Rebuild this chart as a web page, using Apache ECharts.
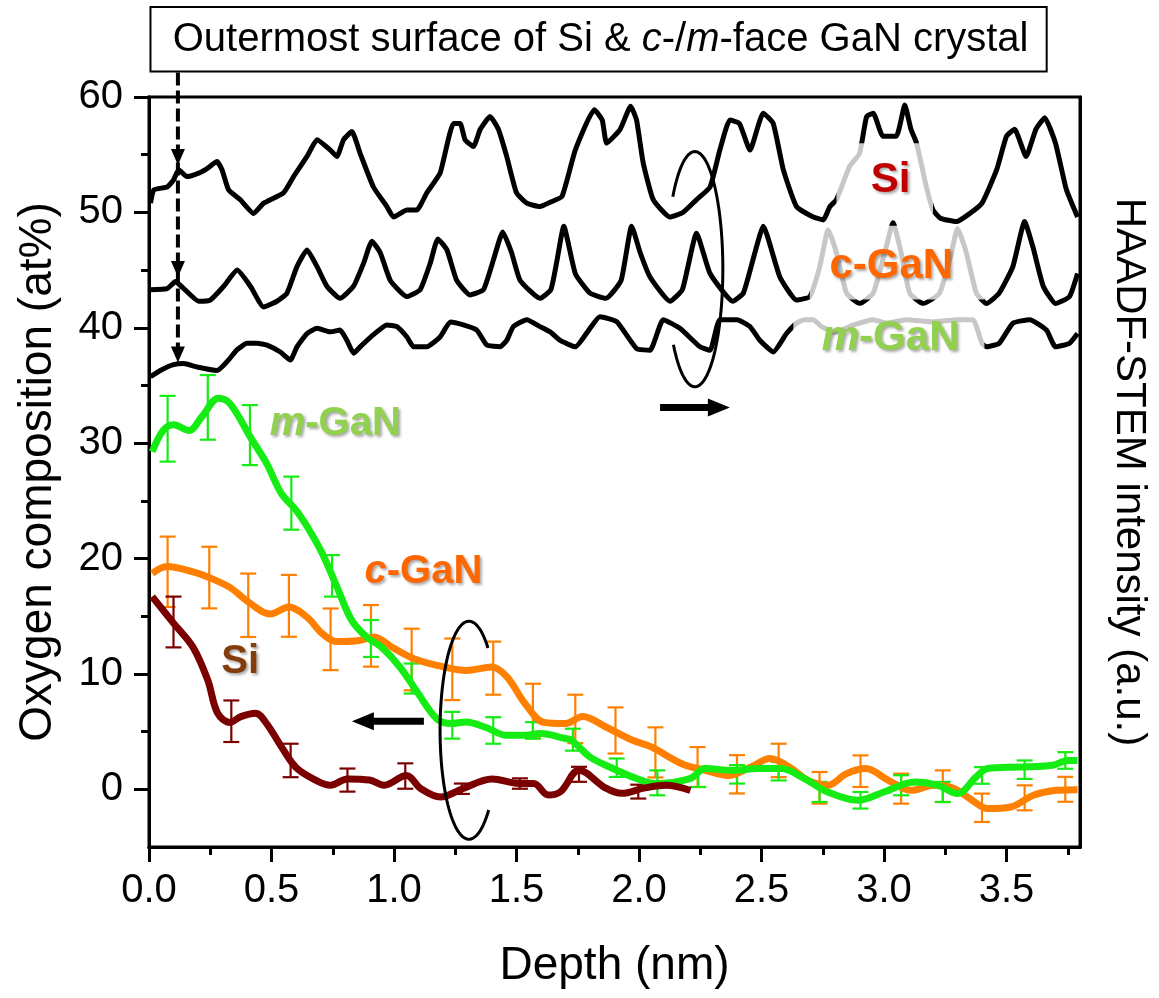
<!DOCTYPE html>
<html>
<head>
<meta charset="utf-8">
<script src="https://cdn.jsdelivr.net/npm/echarts@6/dist/echarts.min.js"></script>
<style>
  html, body { margin: 0; padding: 0; background: #fff; }
  #chart { width: 1159px; height: 998px; }
</style>
</head>
<body>
<div id="chart"></div>
<script>
var FONT = '"Liberation Sans", Arial, Helvetica, sans-serif';

// ---- tick values ----
var xTicks = [0, 0.5, 1.0, 1.5, 2.0, 2.5, 3.0, 3.5];
var xMinorTicks = [0.25, 0.75, 1.25, 1.75, 2.25, 2.75, 3.25, 3.75];
var yTicks = [0, 10, 20, 30, 40, 50, 60];
var yMinorTicks = [5, 15, 25, 35, 45, 55];

// ---- HAADF-STEM intensity profiles (arbitrary units, right axis) ----
var haadfSi = [[0.006,50.8],[0.02,51.95],[0.074,52.2],[0.10,52.8],[0.121,53.7],[0.155,53.1],[0.203,53.4],[0.237,53.8],[0.278,54.4],[0.298,53.7],[0.325,51.95],[0.373,51.1],[0.427,49.9],[0.468,50.8],[0.549,51.7],[0.59,53.1],[0.645,54.85],[0.686,56.3],[0.74,55.4],[0.767,54.85],[0.794,56.3],[0.828,57.0],[0.862,55.1],[0.916,52.2],[0.971,50.5],[0.998,49.6],[1.053,50.2],[1.093,50.2],[1.134,51.7],[1.188,53.4],[1.243,57.7],[1.27,57.7],[1.29,56.3],[1.324,55.7],[1.352,57.2],[1.392,58.3],[1.426,57.2],[1.46,54.85],[1.50,51.7],[1.542,50.8],[1.596,50.5],[1.64,50.9],[1.686,51.4],[1.74,55.4],[1.818,58.9],[1.85,58.0],[1.868,56.0],[1.923,57.2],[1.966,59.2],[1.99,58.0],[2.017,54.3],[2.058,51.1],[2.126,49.6],[2.18,50.0],[2.235,51.1],[2.29,52.2],[2.33,55.4],[2.371,58.0],[2.41,57.7],[2.453,55.4],[2.507,58.6],[2.548,57.7],[2.589,53.7],[2.643,50.5],[2.711,49.6],[2.752,49.35],[2.779,50.5],[2.806,51.1],[2.86,54.0],[2.90,55.1],[2.929,58.3],[2.956,58.6],[2.996,56.6],[3.05,56.6],[3.085,59.3],[3.11,57.2],[3.133,56.0],[3.173,52.2],[3.20,50.2],[3.23,49.5],[3.296,49.2],[3.35,49.9],[3.40,50.8],[3.46,53.7],[3.50,56.6],[3.533,57.2],[3.58,54.85],[3.62,57.2],[3.656,58.2],[3.70,56.0],[3.744,52.0],[3.79,49.6]];
var haadfC = [[0.006,43.3],[0.074,43.4],[0.108,44.0],[0.142,43.4],[0.203,42.3],[0.25,42.4],[0.305,43.6],[0.36,45.0],[0.414,43.6],[0.468,41.8],[0.522,42.3],[0.563,43.0],[0.604,45.3],[0.645,46.75],[0.686,45.3],[0.726,43.6],[0.78,42.55],[0.835,43.6],[0.876,45.6],[0.91,47.5],[0.944,46.5],[0.985,44.1],[1.053,42.7],[1.107,43.3],[1.148,45.6],[1.179,47.7],[1.216,46.75],[1.256,44.1],[1.31,42.85],[1.365,43.3],[1.406,45.9],[1.444,48.3],[1.48,46.5],[1.515,44.1],[1.596,42.55],[1.64,43.3],[1.665,45.8],[1.693,48.8],[1.74,44.7],[1.80,43.0],[1.865,42.55],[1.927,44.1],[1.97,48.8],[2.005,46.5],[2.045,44.4],[2.126,42.3],[2.177,43.3],[2.235,48.2],[2.29,44.7],[2.383,42.3],[2.426,43.0],[2.473,46.5],[2.507,48.8],[2.575,44.4],[2.643,42.4],[2.697,42.7],[2.738,45.3],[2.772,48.5],[2.806,46.5],[2.847,43.0],[2.90,42.1],[2.956,43.0],[3.003,46.5],[3.037,49.1],[3.07,46.5],[3.105,43.0],[3.16,42.1],[3.227,43.0],[3.275,46.5],[3.30,48.6],[3.336,46.5],[3.377,43.0],[3.418,42.1],[3.47,43.0],[3.526,45.3],[3.574,49.2],[3.608,47.0],[3.65,43.6],[3.70,42.1],[3.757,42.7],[3.79,44.7]];
var haadfM = [[0.006,35.76],[0.046,36.3],[0.10,36.8],[0.142,36.9],[0.196,36.6],[0.278,36.3],[0.318,37.05],[0.36,38.1],[0.40,38.65],[0.441,38.65],[0.482,38.5],[0.536,37.9],[0.577,37.2],[0.604,38.35],[0.645,39.5],[0.686,39.95],[0.74,39.65],[0.78,39.8],[0.808,38.9],[0.835,37.8],[0.862,38.35],[0.916,39.4],[0.971,40.25],[1.012,40.1],[1.053,39.2],[1.08,38.35],[1.134,38.35],[1.188,39.2],[1.23,40.5],[1.283,40.25],[1.338,39.8],[1.379,38.5],[1.433,38.35],[1.46,38.9],[1.487,40.1],[1.542,40.7],[1.596,40.1],[1.64,39.6],[1.678,38.9],[1.74,38.35],[1.80,39.95],[1.84,40.96],[1.909,40.53],[1.99,38.2],[2.045,38.05],[2.099,40.7],[2.167,39.95],[2.249,38.35],[2.29,38.05],[2.33,40.7],[2.40,40.7],[2.453,40.1],[2.494,38.9],[2.548,37.9],[2.602,39.5],[2.643,40.4],[2.675,40.7],[2.711,40.7],[2.745,40.1],[2.80,39.6],[2.87,40.2],[2.956,40.7],[3.01,40.4],[3.09,40.7],[3.20,40.5],[3.30,40.7],[3.363,40.7],[3.40,38.65],[3.418,38.35],[3.47,38.65],[3.526,40.4],[3.595,40.7],[3.663,39.8],[3.70,38.35],[3.757,38.65],[3.79,39.5]];

// ---- oxygen composition (at%) profiles, left axis ----
var oxySi = [[0.013,16.7],[0.10,14.4],[0.18,12.3],[0.24,9.45],[0.28,6.6],[0.33,5.8],[0.375,6.3],[0.435,6.6],[0.48,5.7],[0.54,3.7],[0.60,1.9],[0.68,0.8],[0.74,0.35],[0.81,0.9],[0.90,0.8],[0.96,0.35],[1.05,1.2],[1.11,0.05],[1.19,-0.67],[1.28,0.05],[1.40,0.9],[1.51,0.5],[1.57,0.5],[1.63,-0.5],[1.68,-0.2],[1.755,1.65],[1.865,0.1],[1.93,-0.35],[2.02,0.1],[2.11,0.35],[2.21,-0.1]];
var oxyC = [[0.013,18.7],[0.073,19.3],[0.18,18.85],[0.24,18.4],[0.33,17.5],[0.405,16.25],[0.495,15.2],[0.571,15.8],[0.646,14.9],[0.707,13.5],[0.767,12.8],[0.858,12.9],[0.918,13.2],[0.993,12.3],[1.084,11.3],[1.205,10.6],[1.295,10.3],[1.40,10.6],[1.461,9.74],[1.536,7.4],[1.612,5.8],[1.70,5.7],[1.77,6.3],[1.865,5.4],[1.974,4.25],[2.05,3.67],[2.177,2.2],[2.27,1.65],[2.363,1.2],[2.457,1.93],[2.535,2.66],[2.613,1.93],[2.69,0.78],[2.77,0.35],[2.847,1.36],[2.925,1.8],[3.018,0.78],[3.11,-0.09],[3.205,0.35],[3.283,0.1],[3.36,-0.95],[3.423,-1.67],[3.517,-1.53],[3.61,-0.52],[3.704,-0.09],[3.79,-0.03]];
var oxyM = [[0.013,29.25],[0.058,31.1],[0.10,31.6],[0.164,31.1],[0.216,32.3],[0.284,33.9],[0.33,33.45],[0.42,30.3],[0.48,28.25],[0.54,25.65],[0.60,24.2],[0.646,22.75],[0.707,20.45],[0.767,17.55],[0.827,14.66],[0.888,13.2],[0.948,12.34],[1.024,10.6],[1.099,8.3],[1.174,6.13],[1.234,5.7],[1.295,5.84],[1.37,5.4],[1.461,4.68],[1.536,4.68],[1.597,4.83],[1.70,4.4],[1.725,4.25],[1.80,2.8],[1.88,1.93],[1.99,0.93],[2.067,0.49],[2.208,0.93],[2.27,1.8],[2.38,1.65],[2.488,1.8],[2.58,1.8],[2.675,0.93],[2.77,-0.23],[2.893,-0.95],[3.0,-0.23],[3.127,0.63],[3.22,0.35],[3.30,-0.37],[3.376,1.07],[3.423,1.8],[3.548,1.93],[3.688,2.08],[3.75,2.5],[3.79,2.5]];

// ---- error bars: position, centre, half-width ----
var siErrX = [0.10, 0.336, 0.578, 0.81, 1.046, 1.277, 1.514, 1.755, 1.997];
var siErrMid = [14.5, 5.9, 2.5, 0.8, 1.15, 0.05, 0.5, 1.3, -0.2];
var siErr = [2.2, 1.8, 1.45, 1.0, 1.1, 0.45, 0.45, 0.65, 0.6];

var cErrX = [0.076,0.246,0.405,0.571,0.741,0.906,1.072,1.238,1.405,1.567,1.74,1.904,2.067,2.239,2.40,2.57,2.737,2.904,3.07,3.24,3.40,3.574,3.74];
var cErrMid = [18.85,18.35,15.95,15.9,13.0,13.3,11.25,10.4,10.5,6.85,6.1,5.1,3.2,1.93,1.3,2.5,0.13,1.57,0.06,0.27,-1.6,-0.74,0.0];
var cErr = [3.05,2.67,2.75,2.68,2.67,2.67,2.67,2.67,2.3,2.3,2.1,2.0,2.17,1.73,1.66,1.45,1.37,1.37,1.3,1.37,1.23,1.08,1.08];

var mErrX = [0.076,0.24,0.412,0.581,0.747,0.906,1.072,1.238,1.405,1.567,1.73,1.909,2.075,2.242,2.40,2.57,2.737,2.904,3.07,3.24,3.40,3.574,3.74];
var mErrMid = [31.25,33.1,30.7,24.8,18.5,13.07,9.6,5.55,5.1,5.1,4.3,1.87,0.56,1.07,1.3,1.57,-0.23,-0.95,0.35,-0.23,1.2,1.7,2.5];
var mErr = [2.85,2.8,2.6,2.3,1.8,1.6,1.3,1.16,1.15,0.72,0.95,0.8,1.08,0.87,0.8,0.8,0.87,0.72,0.87,0.87,0.72,0.8,0.72];

var COL_SI = '#7b0000', COL_C = '#ff8000', COL_M = '#14ec14';

function errData(xs, mid, err) {
  return xs.map(function (x, i) { return [x, mid[i] - err[i], mid[i] + err[i]]; });
}
function errRender(color) {
  return function (params, api) {
    var x = api.value(0);
    var top = api.coord([x, api.value(2)]);
    var bot = api.coord([x, api.value(1)]);
    var w = 8, st = { stroke: color, lineWidth: 2.2 };
    return { type: 'group', children: [
      { type: 'line', shape: { x1: top[0], y1: top[1], x2: bot[0], y2: bot[1] }, style: st },
      { type: 'line', shape: { x1: top[0] - w, y1: top[1], x2: top[0] + w, y2: top[1] }, style: st },
      { type: 'line', shape: { x1: bot[0] - w, y1: bot[1], x2: bot[0] + w, y2: bot[1] }, style: st }
    ]};
  };
}
function haadfLine(data) {
  return { type: 'line', xAxisIndex: 0, yAxisIndex: 1, data: data, showSymbol: false, silent: true,
    smooth: 0.15, lineStyle: { color: '#000', width: 5 }, z: 2 };
}
function oxyLine(data, color) {
  return { type: 'line', xAxisIndex: 0, yAxisIndex: 0, data: data, showSymbol: false, smooth: 0.35,
    lineStyle: { color: color, width: 7 }, z: 3 };
}
function errSeries(data, color) {
  return { type: 'custom', xAxisIndex: 0, yAxisIndex: 0, data: data, renderItem: errRender(color),
    encode: { x: 0, y: [1, 2] }, z: 3 };
}

var chart = echarts.init(document.getElementById('chart'));
var axisLine = { show: true, onZero: false, lineStyle: { color: '#000', width: 3 } };

chart.setOption({
  animation: false,
  backgroundColor: '#fff',
  grid: { left: 149, top: 97, right: 79, bottom: 151, show: true, borderColor: '#000', borderWidth: 3,
    containLabel: false, outerBoundsMode: 'none' },
  xAxis: [
    { type: 'value', min: 0, max: 3.8, position: 'bottom', axisLine: axisLine,
      axisTick: { show: true, inside: false, length: 15, lineStyle: { color: '#000', width: 3 }, customValues: xTicks },
      axisLabel: { customValues: xTicks, formatter: function (v) { return v.toFixed(1); },
        fontSize: 40, color: '#000', fontFamily: FONT, margin: 24 },
      splitLine: { show: false },
      name: 'Depth (nm)', nameLocation: 'middle', nameGap: 96,
      nameTextStyle: { fontSize: 46, color: '#000', fontFamily: FONT } },
    { type: 'value', min: 0, max: 3.8, position: 'bottom', axisLine: axisLine,
      axisTick: { show: true, length: 8, lineStyle: { color: '#000', width: 3 }, customValues: xMinorTicks },
      axisLabel: { show: false }, splitLine: { show: false } }
  ],
  yAxis: [
    { type: 'value', min: -5, max: 60, position: 'left', axisLine: axisLine,
      axisTick: { show: true, length: 15, lineStyle: { color: '#000', width: 3 }, customValues: yTicks },
      axisLabel: { customValues: yTicks, fontSize: 40, color: '#000', fontFamily: FONT, margin: 26 },
      splitLine: { show: false },
      name: 'Oxygen composition (at%)', nameLocation: 'middle', nameRotate: 90, nameGap: 88,
      nameTextStyle: { fontSize: 46, color: '#000', fontFamily: FONT } },
    { type: 'value', min: -5, max: 60, position: 'right', axisLine: axisLine,
      axisTick: { show: false }, axisLabel: { show: false }, splitLine: { show: false },
      name: 'HAADF-STEM intensity (a.u.)', nameLocation: 'middle', nameRotate: -90, nameGap: 28,
      nameTextStyle: { fontSize: 42, color: '#000', fontFamily: FONT } },
    { type: 'value', min: -5, max: 60, position: 'left', axisLine: axisLine,
      axisTick: { show: true, length: 8, lineStyle: { color: '#000', width: 3 }, customValues: yMinorTicks },
      axisLabel: { show: false }, splitLine: { show: false } }
  ],
  series: [
    haadfLine(haadfSi), haadfLine(haadfC), haadfLine(haadfM),
    oxyLine(oxyC, COL_C), errSeries(errData(cErrX, cErrMid, cErr), COL_C),
    oxyLine(oxyM, COL_M), errSeries(errData(mErrX, mErrMid, mErr), COL_M),
    oxyLine(oxySi, COL_SI), errSeries(errData(siErrX, siErrMid, siErr), COL_SI)
  ]
});

// ---- annotations (data coordinates) ----
var titleBox = { x0: 0.006, x1: 3.664, yTop: 67.8, yBot: 62.2 };
var dashX = 0.118, dashTips = [54.1, 44.4, 37.0];
var fadeBoxes = [ // label backdrops that grey the HAADF traces
  { x0: 2.806, x1: 3.20, yTop: 56.0, yBot: 49.9 },
  { x0: 2.697, x1: 3.41, yTop: 48.85, yBot: 42.45 },
  { x0: 2.63, x1: 3.41, yTop: 41.9, yBot: 36.8 }
];
var ovals = [
  { cx: 2.228, cy: 45.08, rx: 0.1142, ry: 10.19, a0: -142, a1: 142 },
  { cx: 1.306, cy: 5.12, rx: 0.118, ry: 9.45, a0: 47, a1: 313 }
];
var arrows = [
  { x0: 2.086, x1: 2.371, y: 33.1 },
  { x0: 1.122, x1: 0.828, y: 5.9 }
];
var labels = [
  { it: 'm', rest: '-GaN', x: 0.76, y: 31.7, color: '#92d050', size: 40 },
  { it: 'c', rest: '-GaN', x: 1.12, y: 18.8, color: '#ff6600', size: 40 },
  { it: '', rest: 'Si', x: 0.372, y: 11.04, color: '#843c0c', size: 40 },
  { it: '', rest: 'Si', x: 3.027, y: 52.8, color: '#c00000', size: 42 },
  { it: '', rest: 'c-GaN', x: 3.03, y: 45.3, color: '#ff6600', size: 42 },
  { it: 'm', rest: '-GaN', x: 3.027, y: 39.1, color: '#92d050', size: 42 }
];

function P(x, y) { return chart.convertToPixel({ xAxisIndex: 0, yAxisIndex: 0 }, [x, y]); }

var g = [];
fadeBoxes.forEach(function (b) {
  var a = P(b.x0, b.yTop), c = P(b.x1, b.yBot);
  g.push({ type: 'rect', z: 10, shape: { x: a[0], y: a[1], width: c[0] - a[0], height: c[1] - a[1] },
    style: { fill: 'rgba(255,255,255,0.78)' } });
});

(function () {
  var a = P(titleBox.x0, titleBox.yTop), c = P(titleBox.x1, titleBox.yBot);
  g.push({ type: 'rect', z: 20, shape: { x: a[0], y: a[1], width: c[0] - a[0], height: c[1] - a[1] },
    style: { fill: '#fff', stroke: '#000', lineWidth: 2 } });
  var base = { fontSize: 40, fontFamily: FONT, fill: '#000' };
  var ital = { fontSize: 40, fontFamily: FONT, fill: '#000', fontStyle: 'italic' };
  g.push({ type: 'text', z: 21, x: (a[0] + c[0]) / 2 + 2, y: (a[1] + c[1]) / 2 + 1,
    style: { text: '{n|Outermost surface of Si & }{i|c}{n|-/}{i|m}{n|-face GaN crystal}',
      rich: { n: base, i: ital }, align: 'center', verticalAlign: 'middle' } });
  var top = P(dashX, titleBox.yBot), bot = P(dashX, dashTips[dashTips.length - 1]);
  g.push({ type: 'line', z: 20, shape: { x1: top[0], y1: top[1] + 1, x2: bot[0], y2: bot[1] - 8 },
    style: { stroke: '#000', lineWidth: 4, lineDash: [13, 5] } });
  dashTips.forEach(function (t) {
    var p = P(dashX, t);
    g.push({ type: 'polygon', z: 21, shape: { points: [[p[0] - 7, p[1] - 16], [p[0] + 7, p[1] - 16], [p[0], p[1]]] },
      style: { fill: '#000' } });
  });
})();

ovals.forEach(function (o) {
  var c = P(o.cx, o.cy), e = P(o.cx + o.rx, o.cy + o.ry);
  var rx = e[0] - c[0], ry = c[1] - e[1], pts = [];
  for (var a = o.a0; a <= o.a1; a += 3) {
    var r = a * Math.PI / 180;
    pts.push([c[0] + rx * Math.cos(r), c[1] + ry * Math.sin(r)]);
  }
  g.push({ type: 'polyline', z: 20, shape: { points: pts }, style: { stroke: '#000', lineWidth: 3, fill: null } });
});

arrows.forEach(function (ar) {
  var s = P(ar.x0, ar.y), t = P(ar.x1, ar.y), d = t[0] > s[0] ? 1 : -1;
  g.push({ type: 'line', z: 20, shape: { x1: s[0], y1: s[1], x2: t[0] - d * 18, y2: t[1] },
    style: { stroke: '#000', lineWidth: 7 } });
  g.push({ type: 'polygon', z: 20, shape: { points: [[t[0], t[1]], [t[0] - d * 22, t[1] - 9], [t[0] - d * 22, t[1] + 9]] },
    style: { fill: '#000' } });
});

labels.forEach(function (l) {
  var p = P(l.x, l.y);
  var st = { fontSize: l.size, fontWeight: 'bold', fontFamily: FONT, fill: l.color,
    textShadowColor: 'rgba(0,0,0,0.35)', textShadowBlur: 3, textShadowOffsetX: 2, textShadowOffsetY: 2 };
  var it = Object.assign({}, st, { fontStyle: 'italic' });
  g.push({ type: 'text', z: 30, x: p[0], y: p[1],
    style: { text: (l.it ? '{i|' + l.it + '}' : '') + '{n|' + l.rest + '}', rich: { n: st, i: it },
      align: 'center', verticalAlign: 'middle' } });
});

chart.setOption({ graphic: { elements: g } });
</script>
</body>
</html>
